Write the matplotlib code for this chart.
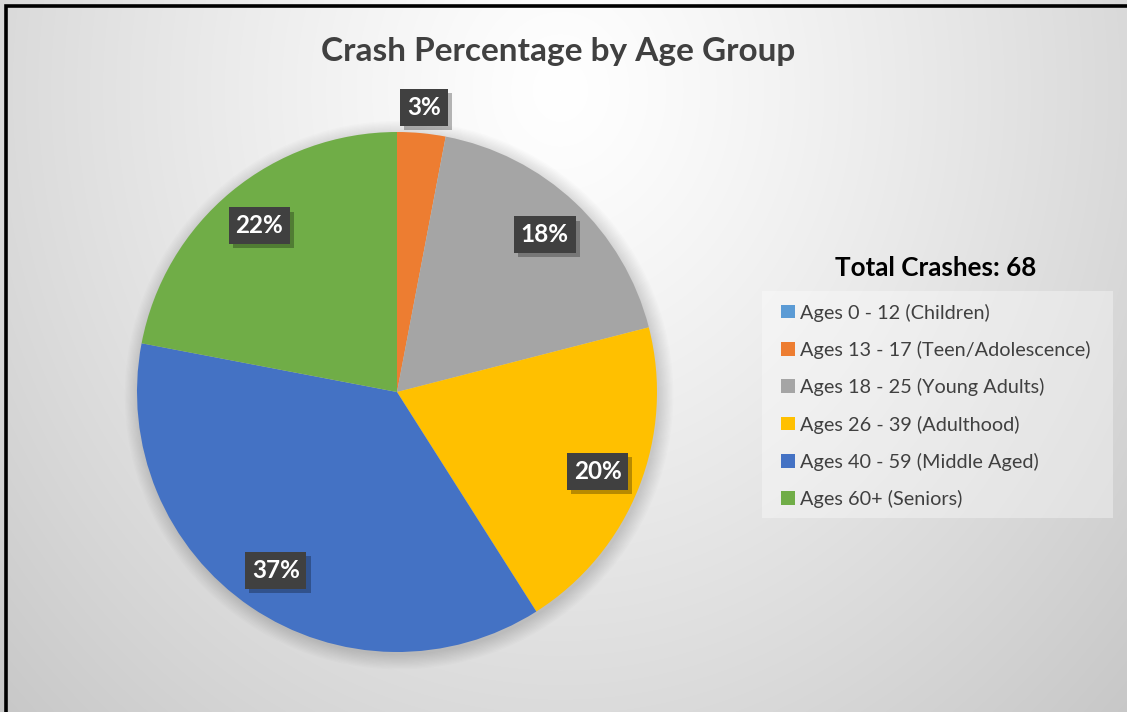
import numpy as np
import matplotlib
matplotlib.use("Agg")
import matplotlib.pyplot as plt
from matplotlib.patches import Rectangle, Circle
import matplotlib.patheffects as pe

# ---- data ----
categories = ["Ages 0 - 12 (Children)", "Ages 13 - 17 (Teen/Adolescence)",
              "Ages 18 - 25 (Young Adults)", "Ages 26 - 39 (Adulthood)",
              "Ages 40 - 59 (Middle Aged)", "Ages 60+ (Seniors)"]
percentages = [0, 3, 18, 20, 37, 22]
colors = ["#5B9BD5", "#ED7D31", "#A5A5A5", "#FFC000", "#4472C4", "#70AD47"]
title = "Crash Percentage by Age Group"
total_label = "Total Crashes: 68"

W, H = 1127, 712
FONT = "Lato"
fig = plt.figure(figsize=(W / 100, H / 100), dpi=100)

# ---- background gradient ----
bg = fig.add_axes([0, 0, 1, 1], zorder=-10)
yy, xx = np.mgrid[0:H, 0:W]
d = np.sqrt(((xx - 560) / 720.0) ** 2 + ((yy - 90) / 820.0) ** 2)
val = np.clip(255 - 50 * d ** 1.2, 192, 255) / 255.0
bg.imshow(np.dstack([val, val, val]), extent=[0, 1, 0, 1], aspect="auto",
          interpolation="bilinear")
bg.set_xlim(0, 1); bg.set_ylim(0, 1)
bg.axis("off")

# legend background panel
fig.add_artist(Rectangle((762 / W, (H - 518) / H), 351 / W, 227 / H,
                         transform=fig.transFigure, fc="white", alpha=0.35,
                         ec="none", zorder=-5))

# ---- pie ----
cx, cy, R = 397, 392, 260
ax = fig.add_axes([(cx - R) / W, (H - cy - R) / H, 2 * R / W, 2 * R / H])
# soft shadow
for i in range(12):
    ax.add_patch(Circle((0.008, -0.012), 1 + 0.005 * i, color="black",
                        alpha=0.012, lw=0, zorder=0, clip_on=False))
wedges, _ = ax.pie(percentages, colors=colors, startangle=90, counterclock=False,
                   radius=1, wedgeprops=dict(linewidth=0, zorder=2))
ax.set_xlim(-1, 1); ax.set_ylim(-1, 1)
ax.set_aspect("equal")
ax.axis("off")

for w, p in zip(wedges, percentages):
    if p <= 0:
        continue
    ang = np.deg2rad((w.theta1 + w.theta2) / 2)
    r = 1.1 if p < 5 else 0.83
    t = ax.text(r * np.cos(ang), r * np.sin(ang), f"{p}%", ha="center", va="center",
                fontsize=17.5, fontweight="bold", color="white", family=FONT,
                zorder=5, clip_on=False,
                bbox=dict(boxstyle="square,pad=0.28", fc="#404040", ec="none"))
    t.get_bbox_patch().set_path_effects([
        pe.SimplePatchShadow(offset=(3, -3), shadow_rgbFace="black", alpha=0.28),
        pe.Normal()])

# ---- title ----
fig.text(558 / W, 1 - 51 / H, title, ha="center", va="center", fontsize=24,
         fontweight="bold", color="#404040", family=FONT)

# ---- legend ----
fig.text(936 / W, 1 - 268 / H, total_label, ha="center", va="center", fontsize=18.7,
         fontweight="bold", color="black", family=FONT)
leg = fig.legend(wedges, categories, loc="upper left",
                 bbox_to_anchor=(781 / W, 1 - 303.5 / H),
                 borderaxespad=0, frameon=False, borderpad=0,
                 handlelength=0.68, handleheight=0.68, handletextpad=0.28,
                 labelspacing=0.97, prop=dict(family=FONT, size=14.3),
                 labelcolor="#404040")

# ---- border ----
fig.add_artist(Rectangle((6 / W, -0.1), 2, 1 - 5.5 / H + 0.1, transform=fig.transFigure,
                         fill=False, ec="black", lw=2.6, clip_on=False))

fig.savefig("out.png", dpi=100)
